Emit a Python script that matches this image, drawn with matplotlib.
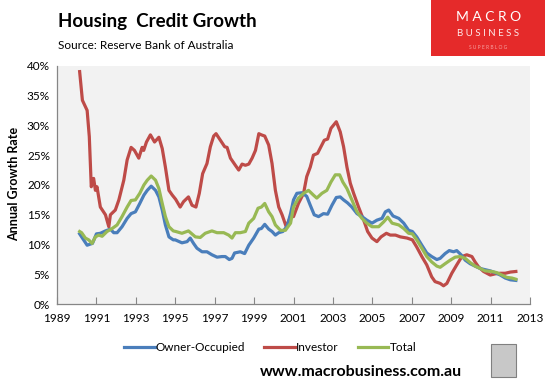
# Housing credit growth (RBA) - MacroBusiness style line chart
import matplotlib
matplotlib.use('Agg')
import matplotlib.pyplot as plt
from matplotlib.patches import Rectangle

plt.rcParams['font.family'] = ['Lato', 'DejaVu Sans']

# ---- data (decimal year, % annual growth) ----
owner_yr = [1990.15, 1990.35, 1990.53, 1990.7, 1990.8, 1991.0, 1991.2, 1991.46, 1991.71, 1991.88,
            1992.05, 1992.3, 1992.56, 1992.76, 1992.98, 1993.2, 1993.41, 1993.58, 1993.78, 1994.0,
            1994.17, 1994.34, 1994.5, 1994.68, 1994.9, 1995.0, 1995.34, 1995.6, 1995.76, 1995.93,
            1996.1, 1996.36, 1996.61, 1996.86, 1997.12, 1997.37, 1997.54, 1997.74, 1997.88, 1998.01,
            1998.3, 1998.52, 1998.73, 1998.98, 1999.24, 1999.37, 1999.54, 1999.74, 1999.91, 2000.08,
            2000.25, 2000.46, 2000.68, 2000.85, 2001.0, 2001.17, 2001.42, 2001.67, 2001.85, 2002.05,
            2002.27, 2002.52, 2002.73, 2002.95, 2003.17, 2003.37, 2003.54, 2003.74, 2003.96, 2004.22,
            2004.47, 2004.72, 2004.98, 2005.23, 2005.49, 2005.66, 2005.83, 2006.05, 2006.34, 2006.59,
            2006.84, 2007.03, 2007.25, 2007.51, 2007.76, 2008.01, 2008.27, 2008.44, 2008.69, 2008.9,
            2009.12, 2009.28, 2009.5, 2009.71, 2009.96, 2010.21, 2010.47, 2010.72, 2010.98, 2011.23,
            2011.49, 2011.74, 2012.0, 2012.28]
owner = [11.8, 10.8, 9.9, 10.1, 10.2, 11.8, 11.9, 12.3, 12.6, 12.0,
         12.0, 13.0, 14.4, 15.2, 15.5, 16.9, 18.3, 19.1, 19.8, 19.1,
         18.0, 15.8, 13.3, 11.3, 10.8, 10.8, 10.3, 10.5, 11.1, 10.2,
         9.4, 8.8, 8.8, 8.3, 7.9, 8.0, 8.0, 7.5, 7.7, 8.6,
         8.8, 8.5, 9.9, 11.1, 12.6, 12.7, 13.4, 12.6, 12.2, 11.6,
         12.0, 12.2, 13.1, 15.2, 17.5, 18.6, 18.7, 18.1, 16.6, 15.0,
         14.7, 15.2, 15.1, 16.6, 17.9, 18.0, 17.5, 17.0, 16.3, 15.2,
         14.7, 14.1, 13.6, 14.1, 14.4, 15.5, 15.8, 14.8, 14.4, 13.6,
         12.4, 12.2, 11.3, 9.9, 8.6, 8.0, 7.5, 7.7, 8.5, 9.0,
         8.8, 9.0, 8.3, 7.4, 6.8, 6.4, 6.0, 5.8, 5.6, 5.3,
         4.9, 4.4, 4.1, 4.0]

inv_yr = [1990.15, 1990.29, 1990.53, 1990.64, 1990.74, 1990.86, 1990.95, 1991.03, 1991.2, 1991.46,
          1991.63, 1991.71, 1991.96, 1992.14, 1992.39, 1992.56, 1992.76, 1992.93, 1993.15, 1993.32,
          1993.4, 1993.54, 1993.74, 1993.95, 1994.17, 1994.34, 1994.5, 1994.68, 1994.85, 1995.02,
          1995.25, 1995.42, 1995.67, 1995.85, 1996.05, 1996.22, 1996.39, 1996.61, 1996.78, 1996.95,
          1997.07, 1997.29, 1997.51, 1997.63, 1997.8, 1998.05, 1998.22, 1998.39, 1998.56, 1998.73,
          1998.9, 1999.07, 1999.24, 1999.37, 1999.54, 1999.74, 1999.91, 2000.08, 2000.25, 2000.42,
          2000.63, 2000.85, 2001.0, 2001.25, 2001.51, 2001.67, 2001.85, 2002.01, 2002.22, 2002.39,
          2002.56, 2002.73, 2002.9, 2003.17, 2003.37, 2003.54, 2003.71, 2003.88, 2004.05, 2004.3,
          2004.56, 2004.76, 2004.98, 2005.23, 2005.44, 2005.71, 2005.91, 2006.17, 2006.42, 2006.76,
          2007.03, 2007.25, 2007.51, 2007.76, 2008.01, 2008.18, 2008.44, 2008.61, 2008.78, 2009.03,
          2009.28, 2009.54, 2009.79, 2010.05, 2010.21, 2010.38, 2010.64, 2010.98, 2011.23, 2011.49,
          2011.74, 2012.0, 2012.28]
investor = [39.0, 34.2, 32.5, 28.1, 19.7, 21.1, 19.1, 19.7, 16.3, 15.0,
            13.0, 15.0, 15.8, 17.5, 20.8, 24.2, 26.3, 25.8, 24.5, 26.3,
            25.8, 27.2, 28.4, 27.2, 28.0, 26.1, 23.0, 19.1, 18.3, 17.6,
            16.3, 17.2, 18.0, 16.6, 16.3, 18.6, 21.9, 23.6, 26.4, 28.2,
            28.6, 27.5, 26.4, 26.3, 24.5, 23.3, 22.5, 23.5, 23.3, 23.5,
            24.5, 25.8, 28.6, 28.4, 28.2, 26.7, 23.6, 19.1, 16.3, 15.0,
            13.0, 14.7, 14.7, 16.9, 18.6, 21.4, 23.0, 25.0, 25.3, 26.4,
            27.5, 27.7, 29.5, 30.6, 28.9, 26.4, 23.0, 20.3, 18.6, 16.3,
            14.1, 12.2, 11.1, 10.5, 11.3, 11.9, 11.6, 11.6, 11.3, 11.1,
            10.8, 9.6, 8.0, 6.6, 4.6, 3.8, 3.5, 3.1, 3.5, 5.2,
            6.6, 8.0, 8.3, 8.0, 7.1, 6.3, 5.5, 4.9, 5.1, 5.2,
            5.2, 5.4, 5.5]

tot_yr = [1990.15, 1990.25, 1990.44, 1990.61, 1990.78, 1990.95, 1991.12, 1991.29, 1991.54, 1991.8,
          1992.05, 1992.3, 1992.56, 1992.76, 1992.98, 1993.2, 1993.41, 1993.58, 1993.78, 1994.0,
          1994.17, 1994.34, 1994.5, 1994.68, 1994.9, 1995.03, 1995.34, 1995.67, 1996.02, 1996.27,
          1996.52, 1996.86, 1997.12, 1997.46, 1997.71, 1997.88, 1998.05, 1998.3, 1998.56, 1998.73,
          1998.98, 1999.2, 1999.37, 1999.54, 1999.74, 1999.91, 2000.08, 2000.34, 2000.59, 2000.85,
          2001.0, 2001.25, 2001.51, 2001.76, 2002.01, 2002.18, 2002.44, 2002.69, 2002.9, 2003.12,
          2003.34, 2003.5, 2003.71, 2003.96, 2004.22, 2004.47, 2004.72, 2004.98, 2005.32, 2005.57,
          2005.78, 2006.0, 2006.34, 2006.59, 2006.84, 2007.03, 2007.25, 2007.51, 2007.76, 2008.01,
          2008.27, 2008.44, 2008.69, 2008.95, 2009.2, 2009.45, 2009.71, 2009.96, 2010.21, 2010.47,
          2010.72, 2011.06, 2011.32, 2011.57, 2011.83, 2012.08, 2012.28]
total = [12.2, 12.0, 11.1, 10.8, 10.2, 11.3, 11.6, 11.4, 12.2, 12.7,
         13.3, 14.7, 16.3, 17.4, 17.5, 18.6, 20.0, 20.8, 21.5, 20.8,
         19.4, 16.9, 14.7, 13.0, 12.3, 12.2, 11.9, 12.3, 11.3, 11.2,
         11.9, 12.3, 12.0, 12.0, 11.6, 11.1, 12.0, 12.0, 12.2, 13.6,
         14.4, 16.1, 16.3, 16.9, 15.5, 14.7, 13.3, 12.4, 12.4, 13.6,
         16.3, 17.8, 18.6, 19.1, 18.3, 17.8, 18.6, 19.1, 20.5, 21.7,
         21.7, 20.5, 19.4, 17.5, 15.5, 14.4, 13.6, 13.0, 13.0, 13.8,
         14.6, 13.6, 13.3, 12.7, 11.9, 11.8, 10.8, 9.4, 8.0, 7.1,
         6.4, 6.2, 6.8, 7.4, 7.9, 8.0, 7.7, 7.0, 6.4, 6.0,
         5.6, 5.5, 5.3, 4.9, 4.5, 4.4, 4.2]

x_ticks = list(range(1989, 2014, 2))
y_ticks = [0, 5, 10, 15, 20, 25, 30, 35, 40]

blue = '#4A7EBB'
red = '#BE4B48'
green = '#98B954'

##############################################################
#                        figure                              #
##############################################################
fig = plt.figure(figsize=(5.51, 3.84), dpi=100)
ax = fig.add_axes([0.1034, 0.2076, 0.8586, 0.6214])
ax.set_facecolor('#F2F2F2')

ax.plot(owner_yr, owner, color=blue, lw=2.3, label='Owner-Occupied', zorder=3)
ax.plot(inv_yr, investor, color=red, lw=2.3, label='Investor', zorder=2)
ax.plot(tot_yr, total, color=green, lw=2.3, label='Total', zorder=4)

ax.set_xlim(1989, 2013)
ax.set_ylim(0, 40)
ax.set_xticks(x_ticks)
ax.set_xticklabels([str(t) for t in x_ticks])
ax.set_yticks(y_ticks)
ax.set_yticklabels(['%d%%' % t for t in y_ticks])
for s in ['top', 'right']:
    ax.spines[s].set_visible(False)
for s in ['left', 'bottom']:
    ax.spines[s].set_color('#868686')
    ax.spines[s].set_linewidth(0.9)
ax.tick_params(axis='x', direction='in', length=5, color='#868686', labelsize=8.5, pad=6)
ax.tick_params(axis='y', direction='out', length=0, color='#868686', labelsize=8.5, pad=5)

fig.text(0.025, 0.522, 'Annual Growth Rate', rotation=90, ha='center', va='center',
         fontsize=9, fontweight='bold')

# titles
fig.text(0.105, 0.945, 'Housing  Credit Growth', fontsize=13.5, fontweight='bold',
         ha='left', va='center')
fig.text(0.105, 0.882, 'Source: Reserve Bank of Australia', fontsize=8.5,
         ha='left', va='center')

# logo box
fig.patches.append(Rectangle((0.783, 0.855), 0.206, 0.145, transform=fig.transFigure,
                             facecolor='#E52A2A', edgecolor='none'))
fig.text(0.886, 0.955, 'M A C R O', color='white', fontsize=10,
         ha='center', va='center')
fig.text(0.886, 0.912, 'B U S I N E S S', color='#FDEAEA', fontsize=7,
         ha='center', va='center')
fig.text(0.886, 0.877, 'S U P E R B L O G', color='#F5A0A0', fontsize=3.5, ha='center', va='center')

# legend
fig.legend(loc='center', bbox_to_anchor=(0.49, 0.096), ncol=3, frameon=False,
           fontsize=8.5, handlelength=2.6, handletextpad=0.1, columnspacing=1.6)

# footer
fig.text(0.655, 0.032, 'www.macrobusiness.com.au', fontsize=11.5, fontweight='bold',
         ha='center', va='center')
fig.patches.append(Rectangle((0.892, 0.018), 0.045, 0.086, transform=fig.transFigure,
                             facecolor='#C8C8C8', edgecolor='#808080', lw=0.8))

plt.savefig('out.png')
